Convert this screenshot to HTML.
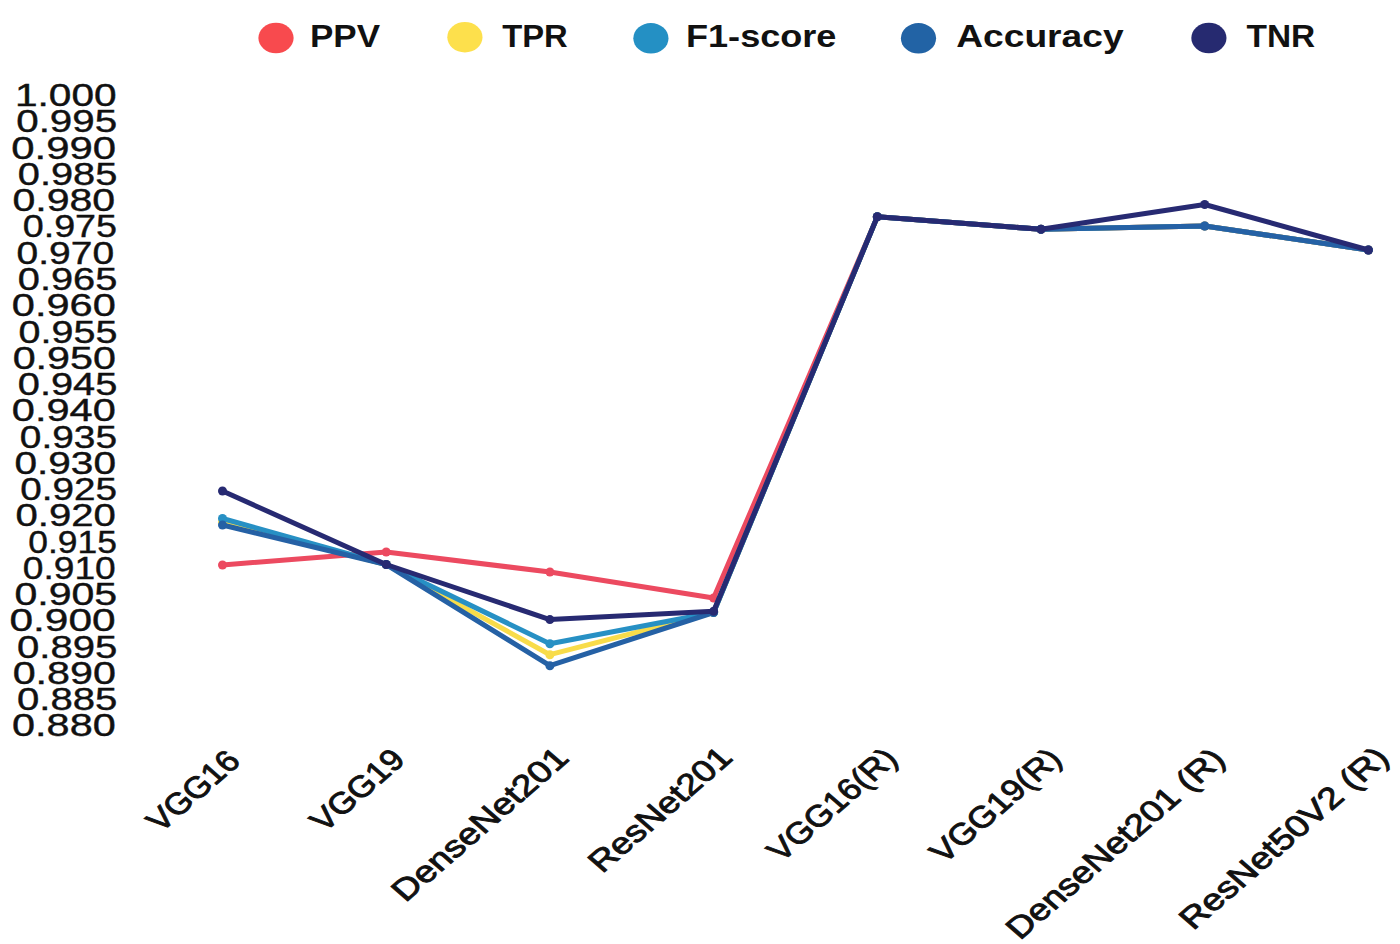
<!DOCTYPE html>
<html><head><meta charset="utf-8"><style>
html,body{margin:0;padding:0;background:#fff;width:1400px;height:944px;overflow:hidden}
svg{display:block}
text{font-family:"Liberation Sans", sans-serif;fill:#111}
</style></head><body>
<svg width="1400" height="944" viewBox="0 0 1400 944">
<ellipse cx="276.0" cy="38.0" rx="17.6" ry="15.3" fill="#f84a4e"/>
<text transform="translate(310.0,46.9) scale(1.15,1)" textLength="60.9" lengthAdjust="spacingAndGlyphs" font-size="31" font-weight="bold">PPV</text>
<ellipse cx="464.9" cy="37.2" rx="17.6" ry="15.3" fill="#fde04c"/>
<text transform="translate(502.2,46.9) scale(1.15,1)" textLength="56.96" lengthAdjust="spacingAndGlyphs" font-size="31" font-weight="bold">TPR</text>
<ellipse cx="650.9" cy="38.3" rx="17.6" ry="15.3" fill="#2490c4"/>
<text transform="translate(686.0,46.9) scale(1.15,1)" textLength="130.8" lengthAdjust="spacingAndGlyphs" font-size="31" font-weight="bold">F1-score</text>
<ellipse cx="918.5" cy="38.3" rx="17.6" ry="15.3" fill="#2263a5"/>
<text transform="translate(956.2,46.9) scale(1.15,1)" textLength="145.59" lengthAdjust="spacingAndGlyphs" font-size="31" font-weight="bold">Accuracy</text>
<ellipse cx="1208.9" cy="38.0" rx="17.6" ry="15.3" fill="#262a70"/>
<text transform="translate(1246.5,46.9) scale(1.15,1)" textLength="59.72" lengthAdjust="spacingAndGlyphs" font-size="31" font-weight="bold">TNR</text>
<text x="15.0" y="106.1" textLength="101.6" lengthAdjust="spacingAndGlyphs" font-size="30.5" stroke="#111" stroke-width="0.4">1.000</text>
<text x="16.2" y="132.4" textLength="101.0" lengthAdjust="spacingAndGlyphs" font-size="30.5" stroke="#111" stroke-width="0.4">0.995</text>
<text x="11.3" y="158.7" textLength="104.8" lengthAdjust="spacingAndGlyphs" font-size="30.5" stroke="#111" stroke-width="0.4">0.990</text>
<text x="17.8" y="184.9" textLength="99.6" lengthAdjust="spacingAndGlyphs" font-size="30.5" stroke="#111" stroke-width="0.4">0.985</text>
<text x="12.4" y="211.2" textLength="102.8" lengthAdjust="spacingAndGlyphs" font-size="30.5" stroke="#111" stroke-width="0.4">0.980</text>
<text x="22.7" y="237.4" textLength="94.4" lengthAdjust="spacingAndGlyphs" font-size="30.5" stroke="#111" stroke-width="0.4">0.975</text>
<text x="16.6" y="263.7" textLength="97.6" lengthAdjust="spacingAndGlyphs" font-size="30.5" stroke="#111" stroke-width="0.4">0.970</text>
<text x="17.8" y="290.0" textLength="99.6" lengthAdjust="spacingAndGlyphs" font-size="30.5" stroke="#111" stroke-width="0.4">0.965</text>
<text x="11.8" y="316.2" textLength="104.0" lengthAdjust="spacingAndGlyphs" font-size="30.5" stroke="#111" stroke-width="0.4">0.960</text>
<text x="18.6" y="342.5" textLength="98.8" lengthAdjust="spacingAndGlyphs" font-size="30.5" stroke="#111" stroke-width="0.4">0.955</text>
<text x="12.7" y="368.7" textLength="103.2" lengthAdjust="spacingAndGlyphs" font-size="30.5" stroke="#111" stroke-width="0.4">0.950</text>
<text x="17.8" y="395.0" textLength="99.6" lengthAdjust="spacingAndGlyphs" font-size="30.5" stroke="#111" stroke-width="0.4">0.945</text>
<text x="11.8" y="421.3" textLength="104.0" lengthAdjust="spacingAndGlyphs" font-size="30.5" stroke="#111" stroke-width="0.4">0.940</text>
<text x="19.8" y="447.5" textLength="97.2" lengthAdjust="spacingAndGlyphs" font-size="30.5" stroke="#111" stroke-width="0.4">0.935</text>
<text x="14.4" y="473.8" textLength="101.6" lengthAdjust="spacingAndGlyphs" font-size="30.5" stroke="#111" stroke-width="0.4">0.930</text>
<text x="20.2" y="500.0" textLength="96.8" lengthAdjust="spacingAndGlyphs" font-size="30.5" stroke="#111" stroke-width="0.4">0.925</text>
<text x="15.5" y="526.3" textLength="100.4" lengthAdjust="spacingAndGlyphs" font-size="30.5" stroke="#111" stroke-width="0.4">0.920</text>
<text x="28.3" y="552.6" textLength="88.6" lengthAdjust="spacingAndGlyphs" font-size="30.5" stroke="#111" stroke-width="0.4">0.915</text>
<text x="22.8" y="578.8" textLength="93.0" lengthAdjust="spacingAndGlyphs" font-size="30.5" stroke="#111" stroke-width="0.4">0.910</text>
<text x="14.4" y="605.1" textLength="102.8" lengthAdjust="spacingAndGlyphs" font-size="30.5" stroke="#111" stroke-width="0.4">0.905</text>
<text x="9.4" y="631.3" textLength="106.2" lengthAdjust="spacingAndGlyphs" font-size="30.5" stroke="#111" stroke-width="0.4">0.900</text>
<text x="17.0" y="657.6" textLength="100.4" lengthAdjust="spacingAndGlyphs" font-size="30.5" stroke="#111" stroke-width="0.4">0.895</text>
<text x="12.7" y="683.9" textLength="103.2" lengthAdjust="spacingAndGlyphs" font-size="30.5" stroke="#111" stroke-width="0.4">0.890</text>
<text x="17.0" y="710.1" textLength="100.4" lengthAdjust="spacingAndGlyphs" font-size="30.5" stroke="#111" stroke-width="0.4">0.885</text>
<text x="12.1" y="736.4" textLength="103.6" lengthAdjust="spacingAndGlyphs" font-size="30.5" stroke="#111" stroke-width="0.4">0.880</text>
<polyline points="222.5,565.0 386.2,552.0 549.9,572.0 713.6,598.0 877.3,216.7 1041.0,229.3 1204.7,226.0 1368.4,250.0" fill="none" stroke="#ec4a60" stroke-width="5" stroke-linejoin="round" stroke-linecap="round"/>
<circle cx="222.5" cy="565.0" r="4.5" fill="#ec4a60"/>
<circle cx="386.2" cy="552.0" r="4.5" fill="#ec4a60"/>
<circle cx="549.9" cy="572.0" r="4.5" fill="#ec4a60"/>
<circle cx="713.6" cy="598.0" r="4.5" fill="#ec4a60"/>
<circle cx="877.3" cy="216.7" r="4.5" fill="#ec4a60"/>
<circle cx="1041.0" cy="229.3" r="4.5" fill="#ec4a60"/>
<circle cx="1204.7" cy="226.0" r="4.5" fill="#ec4a60"/>
<circle cx="1368.4" cy="250.0" r="4.5" fill="#ec4a60"/>
<polyline points="222.5,522.0 386.2,564.5 549.9,654.7 713.6,612.5 877.3,216.7 1041.0,229.3 1204.7,226.0 1368.4,250.0" fill="none" stroke="#f8dc4a" stroke-width="5" stroke-linejoin="round" stroke-linecap="round"/>
<circle cx="222.5" cy="522.0" r="4.5" fill="#f8dc4a"/>
<circle cx="386.2" cy="564.5" r="4.5" fill="#f8dc4a"/>
<circle cx="549.9" cy="654.7" r="4.5" fill="#f8dc4a"/>
<circle cx="713.6" cy="612.5" r="4.5" fill="#f8dc4a"/>
<circle cx="877.3" cy="216.7" r="4.5" fill="#f8dc4a"/>
<circle cx="1041.0" cy="229.3" r="4.5" fill="#f8dc4a"/>
<circle cx="1204.7" cy="226.0" r="4.5" fill="#f8dc4a"/>
<circle cx="1368.4" cy="250.0" r="4.5" fill="#f8dc4a"/>
<polyline points="222.5,518.5 386.2,564.5 549.9,643.7 713.6,612.5 877.3,216.7 1041.0,229.3 1204.7,226.0 1368.4,250.0" fill="none" stroke="#2790c4" stroke-width="5" stroke-linejoin="round" stroke-linecap="round"/>
<circle cx="222.5" cy="518.5" r="4.5" fill="#2790c4"/>
<circle cx="386.2" cy="564.5" r="4.5" fill="#2790c4"/>
<circle cx="549.9" cy="643.7" r="4.5" fill="#2790c4"/>
<circle cx="713.6" cy="612.5" r="4.5" fill="#2790c4"/>
<circle cx="877.3" cy="216.7" r="4.5" fill="#2790c4"/>
<circle cx="1041.0" cy="229.3" r="4.5" fill="#2790c4"/>
<circle cx="1204.7" cy="226.0" r="4.5" fill="#2790c4"/>
<circle cx="1368.4" cy="250.0" r="4.5" fill="#2790c4"/>
<polyline points="222.5,525.0 386.2,564.5 549.9,665.7 713.6,612.5 877.3,216.7 1041.0,229.3 1204.7,226.0 1368.4,250.0" fill="none" stroke="#2561a5" stroke-width="5" stroke-linejoin="round" stroke-linecap="round"/>
<circle cx="222.5" cy="525.0" r="4.5" fill="#2561a5"/>
<circle cx="386.2" cy="564.5" r="4.5" fill="#2561a5"/>
<circle cx="549.9" cy="665.7" r="4.5" fill="#2561a5"/>
<circle cx="713.6" cy="612.5" r="4.5" fill="#2561a5"/>
<circle cx="877.3" cy="216.7" r="4.5" fill="#2561a5"/>
<circle cx="1041.0" cy="229.3" r="4.5" fill="#2561a5"/>
<circle cx="1204.7" cy="226.0" r="4.5" fill="#2561a5"/>
<circle cx="1368.4" cy="250.0" r="4.5" fill="#2561a5"/>
<polyline points="222.5,491.0 386.2,564.5 549.9,619.6 713.6,611.3 877.3,216.7 1041.0,229.3 1204.7,204.5 1368.4,250.0" fill="none" stroke="#272a72" stroke-width="5" stroke-linejoin="round" stroke-linecap="round"/>
<circle cx="222.5" cy="491.0" r="4.5" fill="#272a72"/>
<circle cx="386.2" cy="564.5" r="4.5" fill="#272a72"/>
<circle cx="549.9" cy="619.6" r="4.5" fill="#272a72"/>
<circle cx="713.6" cy="611.3" r="4.5" fill="#272a72"/>
<circle cx="877.3" cy="216.7" r="4.5" fill="#272a72"/>
<circle cx="1041.0" cy="229.3" r="4.5" fill="#272a72"/>
<circle cx="1204.7" cy="204.5" r="4.5" fill="#272a72"/>
<circle cx="1368.4" cy="250.0" r="4.5" fill="#272a72"/>
<text transform="translate(241.9,762.7) scale(1.15,1) rotate(-45)" text-anchor="end" textLength="99.71" lengthAdjust="spacingAndGlyphs" font-size="30" stroke="#111" stroke-width="0.9">VGG16</text>
<text transform="translate(406.6,761.4) scale(1.15,1) rotate(-45)" text-anchor="end" textLength="101.15" lengthAdjust="spacingAndGlyphs" font-size="30" stroke="#111" stroke-width="0.9">VGG19</text>
<text transform="translate(570.4,759.6) scale(1.15,1) rotate(-45)" text-anchor="end" textLength="202.76" lengthAdjust="spacingAndGlyphs" font-size="30" stroke="#111" stroke-width="0.9">DenseNet201</text>
<text transform="translate(734.2,759.3) scale(1.15,1) rotate(-45)" text-anchor="end" textLength="162.25" lengthAdjust="spacingAndGlyphs" font-size="30" stroke="#111" stroke-width="0.9">ResNet201</text>
<text transform="translate(899.2,760.4) scale(1.15,1) rotate(-45)" text-anchor="end" textLength="145.12" lengthAdjust="spacingAndGlyphs" font-size="30" stroke="#111" stroke-width="0.9">VGG16(R)</text>
<text transform="translate(1063.5,760.6) scale(1.15,1) rotate(-45)" text-anchor="end" textLength="147.02" lengthAdjust="spacingAndGlyphs" font-size="30" stroke="#111" stroke-width="0.9">VGG19(R)</text>
<text transform="translate(1226.8,760.8) scale(1.15,1) rotate(-45)" text-anchor="end" textLength="254.43" lengthAdjust="spacingAndGlyphs" font-size="30" stroke="#111" stroke-width="0.9">DenseNet201 (R)</text>
<text transform="translate(1390.7,759.4) scale(1.15,1) rotate(-45)" text-anchor="end" textLength="242.67" lengthAdjust="spacingAndGlyphs" font-size="30" stroke="#111" stroke-width="0.9">ResNet50V2 (R)</text>
</svg>
</body></html>
